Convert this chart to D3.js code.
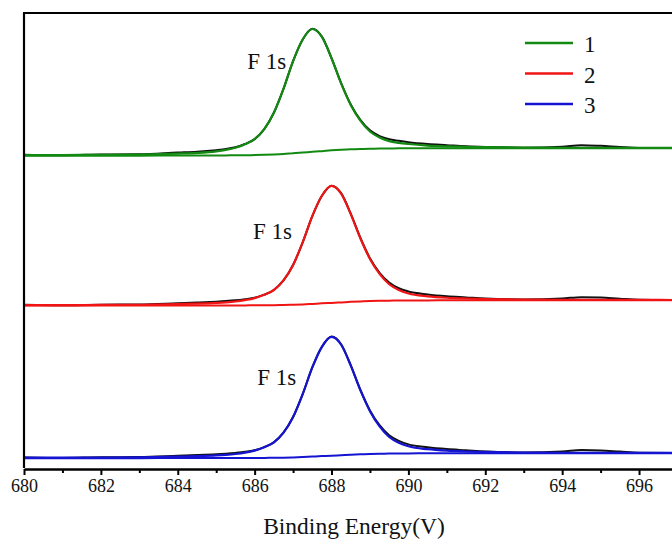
<!DOCTYPE html>
<html>
<head>
<meta charset="utf-8">
<script src="https://cdn.jsdelivr.net/npm/d3@7"></script>
<style>
  body { margin: 0; background: #fff; }
  svg { display: block; }
  text { font-family: "Liberation Serif", "Times New Roman", serif; fill: #111; }
</style>
</head>
<body>
<div id="chart"></div>
<script>
// binding energy grid (eV)
var energy = [680, 681, 682, 683, 684, 684.5, 685, 685.25, 685.5, 685.75, 686, 686.25, 686.5, 686.75, 687, 687.25,
  687.5, 687.75, 688, 688.25, 688.5, 688.75, 689, 689.25, 689.5, 689.75, 690, 690.5, 691, 691.5, 692, 693,
  694, 694.5, 695, 695.5, 696, 697];

// sample 1 (green), stacked intensities, a.u.
var raw1 = [68.84, 68.76, 68.88, 68.95, 69.32, 69.5, 69.85, 70.1, 70.5, 71.2, 72.28, 74.49, 78.08, 83.32, 89.43, 94.18,
  96.55, 94.8, 90.1, 84.6, 79.9, 76.5, 74.2, 72.95, 72.25, 71.9, 71.6, 71.2, 70.95, 70.7, 70.55, 70.4,
  70.62, 70.95, 70.8, 70.55, 70.35, 70.3];
var fit1 = [68.76, 68.79, 68.81, 68.89, 69.1, 69.26, 69.6, 69.92, 70.39, 71.16, 72.28, 74.49, 78.08, 83.32, 89.43, 94.18,
  96.48, 94.75, 90.06, 84.52, 79.77, 76.33, 73.95, 72.63, 71.85, 71.47, 71.21, 70.86, 70.69, 70.59, 70.52, 70.44,
  70.39, 70.38, 70.38, 70.38, 70.35, 70.35];
var bg1 = [68.65, 68.65, 68.65, 68.65, 68.67, 68.67, 68.68, 68.7, 68.72, 68.73, 68.77, 68.82, 68.9, 69.01, 69.18, 69.34,
  69.48, 69.64, 69.81, 69.94, 70.05, 70.12, 70.17, 70.2, 70.23, 70.25, 70.26, 70.27, 70.28, 70.29, 70.3, 70.3,
  70.3, 70.3, 70.3, 70.3, 70.3, 70.3];

// sample 2 (red)
var raw2 = [35.86, 35.76, 35.9, 35.92, 36.2, 36.35, 36.55, 36.68, 36.85, 37.1, 37.42, 38.1, 39.12, 41.22, 44.62, 49.58,
  55.35, 59.83, 62.05, 60.4, 55.9, 50.6, 46.1, 42.9, 40.75, 39.5, 38.8, 38.15, 37.75, 37.5, 37.25, 37.05,
  37.25, 37.55, 37.45, 37.2, 36.98, 36.9];
var fit2 = [35.8, 35.8, 35.83, 35.88, 36.02, 36.12, 36.29, 36.41, 36.59, 36.9, 37.34, 38.07, 39.12, 41.22, 44.62, 49.58,
  55.35, 59.83, 61.99, 60.3, 55.8, 50.49, 45.94, 42.65, 40.38, 39.11, 38.36, 37.74, 37.42, 37.25, 37.14, 37.02,
  36.97, 36.96, 36.95, 36.95, 36.95, 36.92];
var bg2 = [35.7, 35.7, 35.7, 35.7, 35.71, 35.71, 35.72, 35.72, 35.72, 35.74, 35.75, 35.76, 35.78, 35.82, 35.88, 35.96,
  36.07, 36.19, 36.29, 36.4, 36.52, 36.61, 36.69, 36.74, 36.78, 36.8, 36.82, 36.84, 36.85, 36.86, 36.86, 36.87,
  36.87, 36.87, 36.87, 36.87, 36.87, 36.87];

// sample 3 (blue)
var raw3 = [2.33, 2.22, 2.37, 2.4, 2.68, 2.83, 3.02, 3.15, 3.32, 3.55, 3.92, 4.6, 5.64, 7.76, 11.2, 16.24,
  22.1, 26.63, 28.88, 27.2, 22.6, 17.2, 12.65, 9.4, 7.2, 5.95, 5.2, 4.55, 4.15, 3.9, 3.65, 3.42,
  3.62, 3.95, 3.85, 3.6, 3.35, 3.28];
var fit3 = [2.27, 2.27, 2.3, 2.35, 2.49, 2.6, 2.76, 2.89, 3.08, 3.37, 3.83, 4.57, 5.64, 7.76, 11.2, 16.24,
  22.1, 26.63, 28.81, 27.09, 22.51, 17.1, 12.49, 9.13, 6.81, 5.54, 4.78, 4.13, 3.8, 3.63, 3.53, 3.41,
  3.35, 3.34, 3.33, 3.33, 3.33, 3.3];
var bg3 = [2.17, 2.17, 2.17, 2.17, 2.18, 2.18, 2.19, 2.19, 2.19, 2.2, 2.21, 2.22, 2.25, 2.28, 2.33, 2.41,
  2.52, 2.62, 2.71, 2.82, 2.93, 3.01, 3.09, 3.13, 3.16, 3.19, 3.21, 3.22, 3.23, 3.24, 3.24, 3.25,
  3.25, 3.25, 3.25, 3.25, 3.25, 3.25];

var seriesNames = ["1", "2", "3"];
var seriesColors = ["#128a12", "#f01414", "#1414d2"];
var peakLabel = "F 1s";
var peakLabelPos = [[686.82, 87.7], [686.97, 50.4], [687.08, 18.2]]; // energy, intensity at label baseline end
var xTicks = [680, 682, 684, 686, 688, 690, 692, 694, 696];
var xTitle = "Binding Energy(V)";

var width = 672, height = 543;
var margin = {left: 24, top: 13, bottom: 75};

var svg = d3.select("#chart").append("svg")
    .attr("width", width)
    .attr("height", height);

var x = d3.scaleLinear().domain([680, 697]).range([margin.left, margin.left + 17 * 38.44]);
var y = d3.scaleLinear().domain([0, 100]).range([height - margin.bottom, margin.top]);

var line = d3.line()
    .x(function(d) { return x(d[0]); })
    .y(function(d) { return y(d[1]); })
    .curve(d3.curveMonotoneX);

function pairs(vals) {
  return energy.map(function(e, i) { return [e, vals[i]]; });
}

var spectra = [
  {raw: raw1, fit: fit1, bg: bg1},
  {raw: raw2, fit: fit2, bg: bg2},
  {raw: raw3, fit: fit3, bg: bg3}
];

var plot = svg.append("g");

spectra.forEach(function(s, i) {
  plot.append("path")
    .attr("d", line(pairs(s.raw)))
    .attr("fill", "none")
    .attr("stroke", "#111")
    .attr("stroke-width", 2);
  plot.append("path")
    .attr("d", line(pairs(s.bg)))
    .attr("fill", "none")
    .attr("stroke", seriesColors[i])
    .attr("stroke-width", 2);
  plot.append("path")
    .attr("d", line(pairs(s.fit)))
    .attr("fill", "none")
    .attr("stroke", seriesColors[i])
    .attr("stroke-width", 2.2);
  plot.append("text")
    .attr("x", x(peakLabelPos[i][0]))
    .attr("y", y(peakLabelPos[i][1]))
    .attr("text-anchor", "end")
    .style("font-size", "23px")
    .text(peakLabel);
});

// frame: left and top
svg.append("line")
  .attr("x1", margin.left).attr("x2", margin.left)
  .attr("y1", y(100)).attr("y2", y(0))
  .attr("stroke", "#000").attr("stroke-width", 2.2);
svg.append("line")
  .attr("x1", margin.left - 1).attr("x2", width)
  .attr("y1", y(100)).attr("y2", y(100))
  .attr("stroke", "#000").attr("stroke-width", 2.2);

// bottom axis
var xAxis = svg.append("g")
  .attr("transform", "translate(0," + (y(0) + 1) + ")")
  .call(d3.axisBottom(x).tickValues(xTicks).tickFormat(d3.format("d")).tickSize(6).tickSizeOuter(0));
xAxis.select(".domain").attr("stroke", "#000").attr("stroke-width", 2.5);
xAxis.selectAll(".tick line").attr("stroke", "#000").attr("stroke-width", 2);
xAxis.selectAll(".tick text")
  .attr("y", 10)
  .style("font-size", "18px")
  .style("font-family", "'Liberation Serif', serif")
  .attr("fill", "#111");

var minor = svg.append("g")
  .attr("transform", "translate(0," + (y(0) + 1) + ")")
  .call(d3.axisBottom(x).tickValues(xTicks.map(function(t) { return t + 1; })).tickFormat("").tickSize(4));
minor.select(".domain").remove();
minor.selectAll(".tick line").attr("stroke", "#000").attr("stroke-width", 2);

svg.append("text")
  .attr("x", 354)
  .attr("y", 534)
  .attr("text-anchor", "middle")
  .style("font-size", "23.5px")
  .text(xTitle);

// legend
var legend = svg.append("g").attr("transform", "translate(525,43)");
seriesNames.forEach(function(name, i) {
  var g = legend.append("g").attr("transform", "translate(0," + (i * 30.5) + ")");
  g.append("line")
    .attr("x1", 0).attr("x2", 48)
    .attr("stroke", seriesColors[i])
    .attr("stroke-width", 2.5);
  g.append("text")
    .attr("x", 59)
    .attr("y", 9)
    .style("font-size", "23px")
    .text(name);
});
</script>
</body>
</html>
